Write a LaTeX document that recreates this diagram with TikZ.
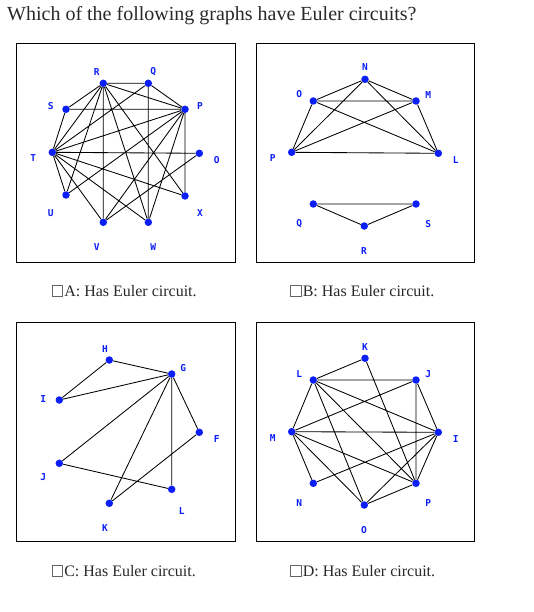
\documentclass[tikz,border=0pt]{standalone}
\usepackage{fontspec}
\setmainfont{Liberation Serif}
\newfontfamily\lblfont{DejaVu Sans Mono}
\usetikzlibrary{positioning}
\definecolor{vblue}{RGB}{10,30,245}
\definecolor{txtgray}{RGB}{40,40,40}
\tikzset{
  vtx/.style={circle,fill=vblue,inner sep=0pt,minimum size=7.5pt},
  lbl/.style={font=\lblfont\bfseries\fontsize{9.5}{10}\selectfont,text=vblue,inner sep=0pt},
  lnk/.style={line width=0.85pt},
  boxline/.style={line width=1pt},
  chk/.style={draw=black!60,line width=0.6pt,minimum size=10.5pt,inner sep=0pt},
  anstext/.style={font=\fontsize{16}{18}\selectfont,text=txtgray,inner sep=0pt,anchor=west}
}
\begin{document}
\begin{tikzpicture}[x=1pt,y=-1pt]
\useasboundingbox (0,0) rectangle (533,612);
\node[font=\fontsize{20}{22}\selectfont,text=txtgray,anchor=base west,inner sep=0pt] (title) at (7,21) {Which of the following graphs have Euler circuits?};

% graph A
\draw[boxline] (16.7,43.3) rectangle (235.7,262.3);
\node[vtx] (aR) at (103.3,83.3) {};
\node[vtx] (aQ) at (148.3,83.3) {};
\node[vtx] (aP) at (185,109.3) {};
\node[vtx] (aS) at (66,109.3) {};
\node[vtx] (aT) at (52.3,152.3) {};
\node[vtx] (aO) at (199.3,153.3) {};
\node[vtx] (aU) at (66,195) {};
\node[vtx] (aX) at (185,196) {};
\node[vtx] (aV) at (103.3,222.3) {};
\node[vtx] (aW) at (148.3,222.3) {};
\draw[lnk] (aR) -- (aQ) (aR) -- (aP) (aR) -- (aS) (aR) -- (aT) (aR) -- (aU)
  (aR) -- (aV) (aR) -- (aW) (aR) -- (aX)
  (aQ) -- (aP) (aQ) -- (aT) (aQ) -- (aW)
  (aP) -- (aS) (aP) -- (aT) (aP) -- (aU) (aP) -- (aV) (aP) -- (aW) (aP) -- (aX)
  (aS) -- (aT)
  (aT) -- (aO) (aT) -- (aX) (aT) -- (aW) (aT) -- (aV) (aT) -- (aU)
  (aO) -- (aV);
\node[lbl] (aRl) at (96.7,71.7) {R};
\node[lbl] (aQl) at (153.3,71.7) {Q};
\node[lbl] (aPl) at (200,106) {P};
\node[lbl] (aSl) at (50.7,106) {S};
\node[lbl] (aTl) at (33.3,158.3) {T};
\node[lbl] (aOl) at (216.7,160) {O};
\node[lbl] (aUl) at (50.7,212.7) {U};
\node[lbl] (aXl) at (200,213.3) {X};
\node[lbl] (aVl) at (96.7,247.3) {V};
\node[lbl] (aWl) at (153.3,247.3) {W};

% graph B
\draw[boxline] (256.7,43.3) rectangle (474.3,262.3);
\node[vtx] (bN) at (365,79.3) {};
\node[vtx] (bO) at (313.3,101) {};
\node[vtx] (bM) at (416,101) {};
\node[vtx] (bP) at (291.7,152.3) {};
\node[vtx] (bL) at (438.3,153.3) {};
\node[vtx] (bQ) at (313.3,204) {};
\node[vtx] (bS) at (416,204) {};
\node[vtx] (bR) at (364.3,226) {};
\draw[lnk] (bN) -- (bO) (bN) -- (bM) (bN) -- (bP) (bN) -- (bL)
  (bO) -- (bM) (bO) -- (bP) (bO) -- (bL)
  (bM) -- (bP) (bM) -- (bL) (bP) -- (bL)
  (bQ) -- (bS) (bQ) -- (bR) (bR) -- (bS);
\node[lbl] (bNl) at (365,66.7) {N};
\node[lbl] (bOl) at (299.3,94.3) {O};
\node[lbl] (bMl) at (428.3,95) {M};
\node[lbl] (bPl) at (272.7,158.3) {P};
\node[lbl] (bLl) at (455.7,160) {L};
\node[lbl] (bQl) at (299.3,224) {Q};
\node[lbl] (bSl) at (428.3,224) {S};
\node[lbl] (bRl) at (364,250.7) {R};

% graph C
\draw[boxline] (16.7,322.7) rectangle (235.7,541.7);
\node[vtx] (cH) at (109.3,360) {};
\node[vtx] (cG) at (171.7,374) {};
\node[vtx] (cI) at (59.3,400) {};
\node[vtx] (cF) at (199.3,432.3) {};
\node[vtx] (cJ) at (59.3,463.3) {};
\node[vtx] (cL) at (171.7,489.3) {};
\node[vtx] (cK) at (109.3,503.3) {};
\draw[lnk] (cH) -- (cG) (cH) -- (cI) (cI) -- (cG)
  (cG) -- (cJ) (cG) -- (cK) (cG) -- (cL) (cG) -- (cF)
  (cF) -- (cK) (cJ) -- (cL);
\node[lbl] (cHl) at (105,349.3) {H};
\node[lbl] (cGl) at (183.3,367.7) {G};
\node[lbl] (cIl) at (43.3,399.3) {I};
\node[lbl] (cFl) at (216.7,439.3) {F};
\node[lbl] (cJl) at (43.3,477.3) {J};
\node[lbl] (cLl) at (181.7,510.7) {L};
\node[lbl] (cKl) at (105,528.3) {K};

% graph D
\draw[boxline] (256.7,322.7) rectangle (474.3,541.7);
\node[vtx] (dK) at (365,358.3) {};
\node[vtx] (dL) at (313.3,380) {};
\node[vtx] (dJ) at (416,380) {};
\node[vtx] (dM) at (291.7,431.7) {};
\node[vtx] (dI) at (438.3,432.3) {};
\node[vtx] (dN) at (313.3,483.3) {};
\node[vtx] (dP) at (416,483.3) {};
\node[vtx] (dO) at (364.3,505) {};
\draw[lnk] (dK) -- (dL) (dK) -- (dP)
  (dL) -- (dJ) (dL) -- (dI) (dL) -- (dP) (dL) -- (dO) (dL) -- (dM)
  (dJ) -- (dM) (dJ) -- (dP) (dJ) -- (dI)
  (dM) -- (dI) (dM) -- (dP) (dM) -- (dN) (dM) -- (dO)
  (dN) -- (dI) (dI) -- (dP) (dI) -- (dO) (dO) -- (dP);
\node[lbl] (dKl) at (365,346.7) {K};
\node[lbl] (dLl) at (299.3,374.3) {L};
\node[lbl] (dJl) at (428.3,374.3) {J};
\node[lbl] (dMl) at (272.7,438.3) {M};
\node[lbl] (dIl) at (455.7,439) {I};
\node[lbl] (dNl) at (299.3,503.3) {N};
\node[lbl] (dPl) at (428.3,503.3) {P};
\node[lbl] (dOl) at (364,530) {O};

% answers
\node[chk] (chkA) at (57.5,291) {};
\node[anstext,right=1pt of chkA] (capA) {A: Has Euler circuit.};
\node[chk] (chkB) at (296,291) {};
\node[anstext,right=1pt of chkB] (capB) {B: Has Euler circuit.};
\node[chk] (chkC) at (57.5,571) {};
\node[anstext,right=1pt of chkC] (capC) {C: Has Euler circuit.};
\node[chk] (chkD) at (296,571) {};
\node[anstext,right=1pt of chkD] (capD) {D: Has Euler circuit.};
\end{tikzpicture}
\end{document}
